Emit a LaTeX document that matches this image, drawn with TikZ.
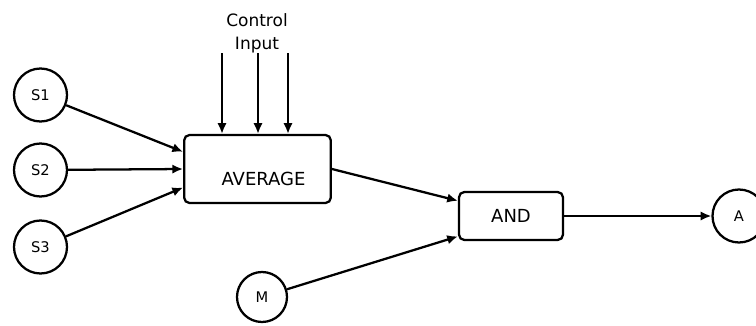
\documentclass[tikz,border=0pt]{standalone}
\usepackage{fontspec}
\setmainfont{DejaVu Sans}
\usetikzlibrary{arrows.meta}
\begin{document}
\begin{tikzpicture}[x=0.75pt,y=-0.75pt,line width=1.7pt,
    sensor/.style={circle,draw,minimum size=39.75pt,inner sep=0pt,font=\fontsize{11}{13}\selectfont},
    smallsensor/.style={sensor,minimum size=37.5pt},
    block/.style={draw,rounded corners=4pt,inner sep=0pt},
    blocktext/.style={inner sep=0pt,font=\fontsize{13.5}{16}\selectfont},
    arr/.style={-{Latex[length=8pt,width=7pt]}}]
        \useasboundingbox (0,0) rectangle (756,325);

        % eingaenge
        \node[sensor] (S1) at (40.5,95) {S1};
        \node[sensor] (S2) at (40.5,170) {S2};
        \node[sensor] (S3) at (40.5,247) {S3};
        \node[smallsensor] (M) at (262,297) {M};

        % bloecke
        \node[block,minimum width=110pt,minimum height=51pt] (avg) at (257.5,169) {};
        \node[blocktext] (avglabel) at (263.5,178.5) {AVERAGE};
        \node[block,minimum width=78pt,minimum height=36pt,font=\fontsize{13.5}{16}\selectfont] (and) at (511,216) {AND};

        % ausgang
        \node[sensor] (A) at (739,216) {A};

        % steuereingang
        \node[inner sep=0pt,anchor=north,align=center,font=\fontsize{12.75}{17.25}\selectfont] (ctrl) at (257,12) {Control\\Input};
        \coordinate (c1) at (222,53);
        \coordinate (c2) at (258,53);
        \coordinate (c3) at (288,53);
        \draw[arr] (c1) -- (c1 |- avg.north);
        \draw[arr] (c2) -- (c2 |- avg.north);
        \draw[arr] (c3) -- (c3 |- avg.north);

        % verbindungen
        \draw[arr] (S1) -- (avg.167);
        \draw[arr] (S2) -- (avg.west);
        \draw[arr] (S3) -- (avg.194);
        \draw[arr] (avg.east) -- (and.164);
        \draw[arr] (M) -- (and.201);
        \draw[arr] (and) -- (A);
\end{tikzpicture}
\end{document}
